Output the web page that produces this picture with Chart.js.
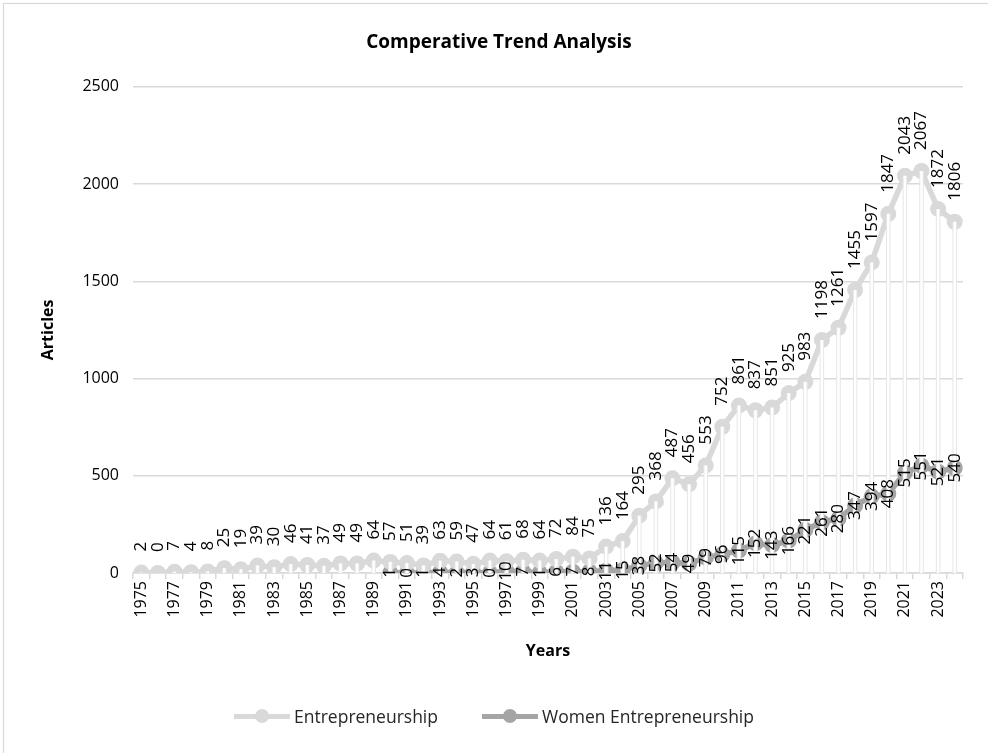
<!DOCTYPE html>
<html>
<head>
<meta charset="utf-8">
<script src="https://cdn.jsdelivr.net/npm/chart.js@4.4.0/dist/chart.umd.min.js"></script>
<style>
  html, body { margin: 0; padding: 0; background: #fff; }
  #wrap { position: relative; width: 988px; height: 753px; font-family: "Open Sans", sans-serif; }
  #legend { position: absolute; left: 0; right: 0; top: 704px; display: flex; justify-content: center; gap: 44px; font-size: 17.5px; color: #262626; }
  .legend-item { display: flex; align-items: center; }
  .swatch { position: relative; width: 56px; height: 16px; margin-right: 4px; }
  .swatch::before { content: ''; position: absolute; left: 0; right: 0; top: 6px; height: 4.5px; background: var(--c); }
  .swatch::after { content: ''; position: absolute; left: 21px; top: 1px; width: 14px; height: 14px; border-radius: 50%; background: var(--c); }
</style>
</head>
<body>
<div id="wrap">
  <canvas id="chart" width="988" height="753"></canvas>
  <div id="legend">
    <div class="legend-item"><span class="swatch" style="--c:#d9d9d9"></span>Entrepreneurship</div>
    <div class="legend-item"><span class="swatch" style="--c:#a5a5a5"></span>Women Entrepreneurship</div>
  </div>
</div>
<script>
// --- DATA ---
const years = ['1975','1976','1977','1978','1979','1980','1981','1982','1983','1984',
  '1985','1986','1987','1988','1989','1990','1991','1992','1993','1994',
  '1995','1996','1997','1998','1999','2000','2001','2002','2003','2004',
  '2005','2006','2007','2008','2009','2010','2011','2012','2013','2014',
  '2015','2016','2017','2018','2019','2020','2021','2022','2023','2024'];

const entrepreneurship = [2, 0, 7, 4, 8, 25, 19, 39, 30, 46,
  41, 37, 49, 49, 64, 57, 51, 39, 63, 59,
  47, 64, 61, 68, 64, 72, 84, 75, 136, 164,
  295, 368, 487, 456, 553, 752, 861, 837, 851, 925,
  983, 1198, 1261, 1455, 1597, 1847, 2043, 2067, 1872, 1806];

const womenEntrepreneurship = [null, null, null, null, null, null, null, null, null, null,
  null, null, null, null, null, 1, 0, 1, 4, 2,
  3, 0, 10, 7, 1, 6, 7, 8, 11, 15,
  38, 52, 54, 49, 79, 96, 115, 152, 143, 166,
  221, 261, 280, 347, 394, 408, 515, 551, 521, 540];

const yMin = 0, yMax = 2500, yStep = 500;

const FONT = '"Open Sans", sans-serif';

// --- PLUGINS ---
// chart border, like the Excel chart frame
const frame = {
  id: 'frame',
  beforeDraw(chart) {
    const ctx = chart.ctx;
    ctx.save();
    ctx.strokeStyle = '#d9d9d9';
    ctx.lineWidth = 1.2;
    ctx.strokeRect(3.5, 3.5, 1000, 800);
    ctx.restore();
  }
};

// drop lines from the highest point of each category down to the axis
const dropLines = {
  id: 'dropLines',
  afterDatasetsDraw(chart) {
    const ctx = chart.ctx;
    const bottom = chart.chartArea.bottom;
    const metas = chart.data.datasets.map((ds, i) => chart.getDatasetMeta(i));
    ctx.save();
    years.forEach((y, i) => {
      let top = bottom, x = null;
      metas.forEach((m, di) => {
        const pt = m.data[i];
        if (chart.data.datasets[di].data[i] === null || !pt) return;
        x = pt.x;
        top = Math.min(top, pt.y);
      });
      if (x === null) return;
      ctx.beginPath();
      ctx.moveTo(x, top);
      ctx.lineTo(x, bottom);
      ctx.strokeStyle = '#e6e6e6';
      ctx.lineWidth = 4.5;
      ctx.stroke();
      ctx.strokeStyle = '#ffffff';
      ctx.lineWidth = 2.5;
      ctx.stroke();
    });
    ctx.restore();
  }
};

// vertical value labels (above for the first series, centred for the second)
const pointLabels = {
  id: 'pointLabels',
  afterDatasetsDraw(chart) {
    const ctx = chart.ctx;
    ctx.save();
    ctx.font = '17px ' + FONT;
    ctx.fillStyle = '#000';
    ctx.textBaseline = 'middle';
    chart.data.datasets.forEach((ds, di) => {
      const meta = chart.getDatasetMeta(di);
      meta.data.forEach((pt, i) => {
        const v = ds.data[i];
        if (v === null) return;
        ctx.save();
        ctx.translate(pt.x, pt.y);
        ctx.rotate(-Math.PI / 2);
        if (ds.labelPos === 'above') {
          ctx.textAlign = 'left';
          ctx.fillText(String(v), 21, 0);
        } else {
          ctx.textAlign = 'center';
          ctx.fillText(String(v), 0, 0);
        }
        ctx.restore();
      });
    });
    ctx.restore();
  }
};

// --- CHART ---
const ctx = document.getElementById('chart').getContext('2d');
new Chart(ctx, {
  type: 'line',
  data: {
    labels: years,
    datasets: [
      {
        label: 'Entrepreneurship', data: entrepreneurship, labelPos: 'above',
        borderColor: '#d9d9d9', backgroundColor: '#d9d9d9', borderWidth: 5.5,
        pointRadius: 8, pointBorderWidth: 0, pointBackgroundColor: '#d9d9d9', tension: 0
      },
      {
        label: 'Women Entrepreneurship', data: womenEntrepreneurship, labelPos: 'center',
        borderColor: '#a5a5a5', backgroundColor: '#a5a5a5', borderWidth: 5.5,
        pointRadius: 8, pointBorderWidth: 0, pointBackgroundColor: '#a5a5a5', tension: 0
      }
    ]
  },
  options: {
    responsive: false, animation: false,
    layout: { padding: { left: 35, right: 25, top: 0, bottom: 88 } },
    plugins: {
      legend: { display: false },
      tooltip: { enabled: false },
      title: {
        display: true, text: 'Comperative Trend Analysis', color: '#000',
        font: { family: FONT, size: 19, weight: 'bold', lineHeight: 1.2 },
        padding: { top: 31, bottom: 33 }
      }
    },
    scales: {
      x: {
        offset: true,
        grid: { offset: true, drawOnChartArea: false, drawTicks: true, tickLength: 6, color: '#d9d9d9', lineWidth: 1.5 },
        border: { color: '#d9d9d9', width: 1.5 },
        ticks: {
          autoSkip: false, maxRotation: 90, minRotation: 90, padding: 2,
          color: '#000', font: { family: FONT, size: 16 },
          callback: (v, i) => (i % 2 === 0 ? years[i] : '')
        },
        title: { display: true, text: 'Years', color: '#000', font: { family: FONT, size: 16, weight: 'bold', lineHeight: 1.2 }, padding: { top: 4, bottom: 4 } },
        afterFit: s => { s.height = 92; }
      },
      y: {
        min: yMin, max: yMax,
        grid: { color: '#d9d9d9', lineWidth: 1.5, drawTicks: false },
        border: { display: false },
        ticks: { stepSize: yStep, padding: 14, color: '#000', font: { family: FONT, size: 16 }, callback: v => String(v) },
        title: { display: true, text: 'Articles', color: '#000', font: { family: FONT, size: 16, weight: 'bold', lineHeight: 1.2 }, padding: { top: 4, bottom: 4 } },
        afterFit: s => { s.width = 98; }
      }
    }
  },
  plugins: [frame, dropLines, pointLabels]
});
</script>
</body>
</html>
